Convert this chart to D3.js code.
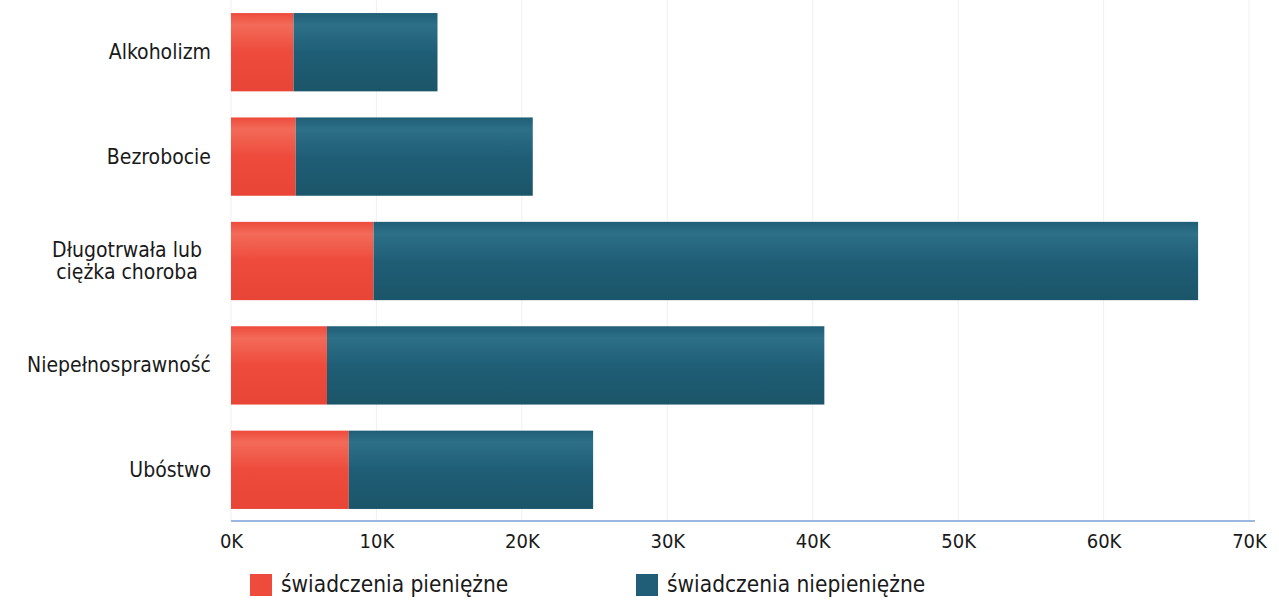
<!DOCTYPE html>
<html><head><meta charset="utf-8">
<script src="https://cdn.jsdelivr.net/npm/d3@7"></script>
<style>body{margin:0;background:#fff;} svg{display:block;}</style>
</head><body><svg id="c" width="1279" height="600"></svg>
<script>
const categories = ["Alkoholizm","Bezrobocie","Długotrwała lub\nciężka choroba","Niepełnosprawność","Ubóstwo"];
const pieniezne = [4300, 4450, 9800, 6600, 8100];
const niepieniezne = [9900, 16300, 56700, 34200, 16800];
const seriesNames = ["świadczenia pieniężne","świadczenia niepieniężne"];
const colors = ["#ee4b3c","#1f5e76"];
const tickValues = [0,10000,20000,30000,40000,50000,60000,70000];

const svg = d3.select("#c");
const x = d3.scaleLinear().domain([0,70000]).range([231,1249]);
const y = d3.scaleBand().domain(categories).range([0,522]).paddingInner(0.25).paddingOuter(0.125);
const font = "'DejaVu Sans Condensed', 'DejaVu Sans', Verdana, sans-serif";

const defs = svg.append("defs");
[["g0","#f36a58","#ee4b3c","#e84536"],["g1","#2d7088","#1f5e76","#1b5569"]].forEach(([id,a,b,c])=>{
  const g = defs.append("linearGradient").attr("id",id).attr("x1",0).attr("y1",0).attr("x2",0).attr("y2",1);
  g.append("stop").attr("offset","0%").attr("stop-color",b);
  g.append("stop").attr("offset","15%").attr("stop-color",a);
  g.append("stop").attr("offset","50%").attr("stop-color",b);
  g.append("stop").attr("offset","100%").attr("stop-color",c);
});

// grid
svg.append("g").selectAll("line").data(tickValues).join("line")
  .attr("x1",d=>x(d)).attr("x2",d=>x(d)).attr("y1",0).attr("y2",521)
  .attr("stroke","#f0f0f0").attr("stroke-width",1);

const stacked = d3.stack().keys([0,1])(categories.map((c,i)=>({cat:c,0:pieniezne[i],1:niepieniezne[i]})));
svg.append("g").selectAll("g").data(stacked).join("g")
  .attr("fill",(d,i)=>`url(#g${i})`)
  .selectAll("rect").data(d=>d).join("rect")
  .attr("x",d=>x(d[0])).attr("width",d=>x(d[1])-x(d[0]))
  .attr("y",d=>y(d.data.cat)).attr("height",y.bandwidth());

// x axis
const xAxis = d3.axisBottom(x).tickValues(tickValues).tickFormat(d=>(d/1000)+"K").tickSize(0).tickPadding(13);
const gx = svg.append("g").attr("transform","translate(0,521)").call(xAxis);
gx.select(".domain").attr("stroke","#7b9fd6").attr("stroke-width",1.5).attr("d","M231,0H1255");
gx.selectAll("text").attr("font-family",font).attr("font-size",20).attr("fill","#1a1a1a");

// y labels
const yl = svg.append("g").selectAll("text").data(categories).join("text")
  .attr("font-family",font).attr("font-size",21).attr("fill","#1a1a1a");
yl.each(function(d){
  const lines = d.split("\n");
  const t = d3.select(this);
  const cy = y(d)+y.bandwidth()/2;
  if (lines.length>1) t.attr("text-anchor","middle"); else t.attr("text-anchor","end");
  lines.forEach((l,i)=>{
    t.append("tspan").attr("x", lines.length>1 ? 127 : 211)
      .attr("y", cy + (i-(lines.length-1)/2)*22 + 7).text(l);
  });
});

// legend
const lg = svg.append("g");
const lx = [250, 636];
seriesNames.forEach((n,i)=>{
  lg.append("rect").attr("x",lx[i]).attr("y",574).attr("width",22).attr("height",22).attr("fill",colors[i]);
  lg.append("text").attr("x",lx[i]+31).attr("y",592).attr("font-family",font).attr("font-size",22.5).attr("fill","#1a1a1a").text(n);
});
</script></body></html>
